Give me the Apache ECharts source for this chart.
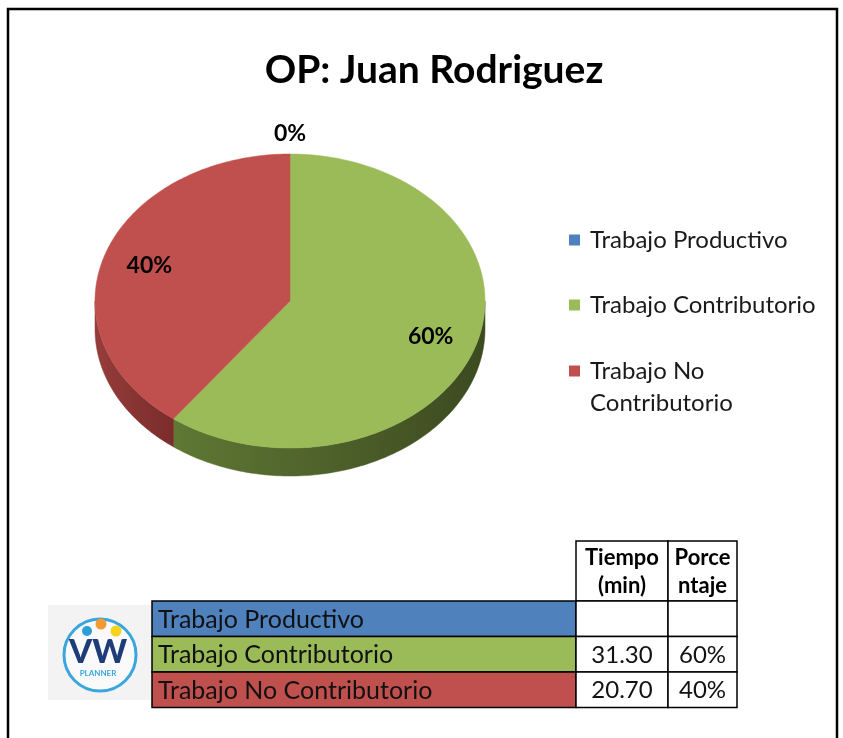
<!DOCTYPE html>
<html>
<head>
<meta charset="utf-8">
<script src="https://cdn.jsdelivr.net/npm/echarts@6/dist/echarts.min.js"></script>
<style>
  html, body { margin: 0; padding: 0; background: #fff; }
  #chart { width: 843px; height: 738px; }
</style>
</head>
<body>
<div id="chart"></div>
<script>
const categories = ['Trabajo Productivo', 'Trabajo Contributorio', 'Trabajo No Contributorio'];
const tiempoMin = [0, 31.30, 20.70];
const tableHeaders = ['Tiempo\n(min)', 'Porce\nntaje'];
const sliceColors = ['#4f81bd', '#9bbb59', '#c0504d'];
const sideColors = [['#3d6491', '#2c4a6e'], ['#5f7834', '#3c4a20'], ['#953d3b', '#7a2c2b']];

const total = tiempoMin.reduce((a, b) => a + b, 0);
const shares = tiempoMin.map(v => v / total);
const starts = [];
let acc = 0;
shares.forEach(s => { starts.push(acc); acc += s; });
const pctText = shares.map(s => Math.round(s * 100) + '%');

const FONT = 'Lato, "Open Sans", sans-serif';
// tilted pie geometry
const PIE = { cx: 290, cy: 301, rx: 195, ry: 147, depth: 28 };

// a = fraction of a turn, clockwise from 12 o'clock
function pt(a, k, dy) {
  const t = a * Math.PI * 2;
  return [PIE.cx + PIE.rx * k * Math.sin(t), PIE.cy - PIE.ry * k * Math.cos(t) + dy];
}

function arc(a0, a1, dy) {
  const n = Math.max(2, Math.ceil((a1 - a0) * 360));
  const out = [];
  for (let i = 0; i <= n; i++) out.push(pt(a0 + (a1 - a0) * i / n, 1, dy));
  return out;
}

function renderSlice(params, api) {
  const i = params.seriesIndex;
  const a0 = starts[i], a1 = starts[i] + shares[i];
  const children = [];
  if (a1 > a0) {
    // front wall, only the part facing the viewer
    const f0 = Math.max(a0, 0.25), f1 = Math.min(a1, 0.75);
    if (f1 > f0) {
      const top = arc(f0, f1, 0);
      const bot = arc(f0, f1, PIE.depth).reverse();
      const grad = new echarts.graphic.LinearGradient(0, 0, 1, 0, [
        { offset: 0, color: sideColors[i][0] },
        { offset: 1, color: sideColors[i][1] }
      ]);
      children.push({
        type: 'polygon', z2: 1,
        shape: { points: top.concat(bot) },
        style: { fill: grad, stroke: grad, lineWidth: 0.5 }
      });
    }
    children.push({
      type: 'polygon', z2: 2,
      shape: { points: [[PIE.cx, PIE.cy]].concat(arc(a0, a1, 0)) },
      style: { fill: sliceColors[i], stroke: sliceColors[i], lineWidth: 0.5 }
    });
  }
  const mid = (a0 + a1) / 2;
  const k = shares[i] < 0.05 ? 1.14 : 0.76;
  const p = pt(mid, k, 0);
  children.push({
    type: 'text', z2: 5, x: p[0], y: p[1],
    style: {
      text: pctText[i], font: 'bold 23px ' + FONT, fill: '#000',
      align: 'center', verticalAlign: 'middle'
    }
  });
  return { type: 'group', children };
}

// table at the bottom
const colX = [152, 576, 668, 737];
const headTop = 541, headH = 60, rowTop = 601, rowH = 35.5;
const tableEls = [];
for (let c = 1; c < 3; c++) {
  tableEls.push({
    type: 'rect',
    shape: { x: colX[c], y: headTop, width: colX[c + 1] - colX[c], height: headH },
    style: { fill: '#fff', stroke: '#000', lineWidth: 1.5 }
  });
  tableEls.push({
    type: 'text', x: (colX[c] + colX[c + 1]) / 2, y: headTop + headH / 2 + 1,
    style: {
      text: tableHeaders[c - 1], font: 'bold 22px ' + FONT, lineHeight: 28,
      fill: '#000', align: 'center', verticalAlign: 'middle'
    }
  });
}
categories.forEach((name, r) => {
  const y = rowTop + r * rowH;
  const cells = [name, tiempoMin[r] ? tiempoMin[r].toFixed(2) : '', tiempoMin[r] ? pctText[r] : ''];
  for (let c = 0; c < 3; c++) {
    tableEls.push({
      type: 'rect',
      shape: { x: colX[c], y: y, width: colX[c + 1] - colX[c], height: rowH },
      style: { fill: c === 0 ? sliceColors[r] : '#fff', stroke: '#000', lineWidth: 1.5 }
    });
    tableEls.push({
      type: 'text',
      x: c === 0 ? colX[0] + 6 : (colX[c] + colX[c + 1]) / 2,
      y: y + rowH / 2 + 1,
      style: {
        text: cells[c], font: (c === 0 ? 25 : 24) + 'px ' + FONT, fill: '#111',
        align: c === 0 ? 'left' : 'center', verticalAlign: 'middle'
      }
    });
  }
});

// logo
const logo = {
  type: 'group',
  children: [
    { type: 'rect', shape: { x: 48, y: 605, width: 103, height: 95 }, style: { fill: '#f3f3f3' } },
    { type: 'circle', shape: { cx: 100, cy: 655, r: 36 }, style: { fill: '#fafafa', stroke: '#3aa6dd', lineWidth: 3 } },
    { type: 'circle', shape: { cx: 87, cy: 631, r: 5 }, style: { fill: '#2a9fd8' } },
    { type: 'circle', shape: { cx: 101, cy: 624, r: 5.5 }, style: { fill: '#f39a32' } },
    { type: 'circle', shape: { cx: 116, cy: 631, r: 5.5 }, style: { fill: '#f7d31e' } },
    { type: 'text', x: 98, y: 652, style: { text: 'VW', font: '900 33px ' + FONT, fill: '#1d3c78', align: 'center', verticalAlign: 'middle' } },
    { type: 'text', x: 98, y: 673, style: { text: 'PLANNER', font: 'bold 8px ' + FONT, fill: '#3aa6dd', align: 'center', verticalAlign: 'middle' } }
  ]
};

const legendText = { fontFamily: FONT, fontSize: 24, color: '#1a1a1a', lineHeight: 32, padding: [0, 0, 0, 5] };

const chart = echarts.init(document.getElementById('chart'));
chart.setOption({
  backgroundColor: '#fff',
  animation: false,
  title: {
    text: 'OP: Juan Rodriguez',
    left: 429, top: 46, textAlign: 'center',
    textStyle: { fontFamily: FONT, fontWeight: 'bold', fontSize: 39, color: '#000' }
  },
  legend: [
    {
      orient: 'vertical', left: 569, top: 224, padding: 0,
      itemWidth: 11, itemHeight: 11, itemGap: 33, icon: 'rect',
      selectedMode: false, textStyle: legendText,
      data: categories.slice(0, 2)
    },
    {
      // wrapped item: blank first line keeps the square level with "Trabajo No"
      orient: 'vertical', left: 569, top: 323, padding: 0,
      itemWidth: 11, itemHeight: 11, icon: 'rect',
      selectedMode: false, textStyle: legendText,
      data: categories.slice(2),
      formatter: name => '\n' + name.replace(' No ', ' No\n')
    }
  ],
  graphic: [
    {
      type: 'rect', silent: true,
      shape: { x: 8, y: 9, width: 829, height: 745 },
      style: { fill: 'none', stroke: '#000', lineWidth: 2.5 }
    },
    { type: 'group', silent: true, children: tableEls },
    logo
  ],
  series: categories.map((name, i) => ({
    type: 'custom',
    name,
    coordinateSystem: 'none',
    silent: true,
    itemStyle: { color: sliceColors[i] },
    data: [[tiempoMin[i]]],
    renderItem: renderSlice
  }))
});
</script>
</body>
</html>
